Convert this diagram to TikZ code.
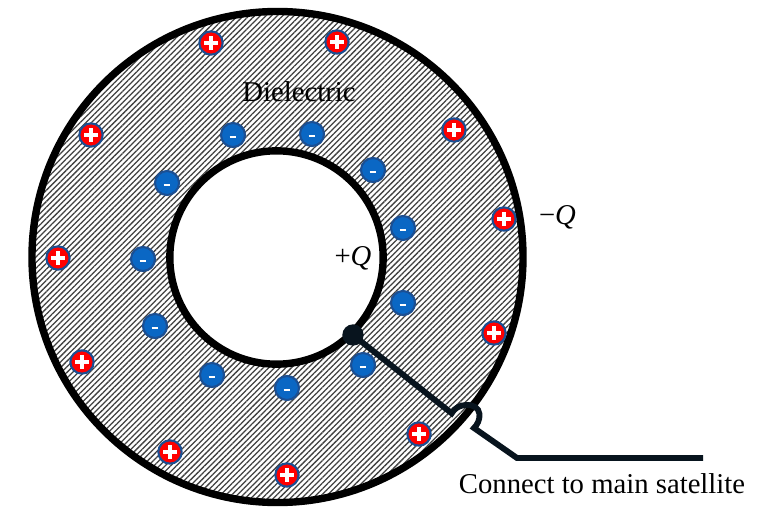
\documentclass[tikz,border=0pt]{standalone}
\usepackage{fontspec}
\setmainfont{Liberation Serif}
\usetikzlibrary{patterns.meta}
\definecolor{chargeRed}{HTML}{FF0000}
\definecolor{chargeBlue}{HTML}{0A67C4}
\definecolor{rimBlue}{HTML}{1B4F93}
\definecolor{wireInk}{HTML}{08141E}

\begin{document}
\begin{tikzpicture}[x=0.03cm, y=-0.03cm, every node/.style={font=\fontsize{24.5}{29}\selectfont},
	pluscharge/.style={circle, draw=rimBlue, fill=chargeRed, line width=1.8pt, minimum size=0.7cm, inner sep=0pt,
		path picture={\draw[white, line width=2.6pt] (path picture bounding box.center) ++(-0.2cm,0pt) -- ++(0.4cm,0pt)
			(path picture bounding box.center) ++(0pt,-0.2cm) -- ++(0pt,0.4cm);}},
	minuscharge/.style={circle, draw=rimBlue, fill=chargeBlue, line width=1.8pt, minimum size=0.72cm, inner sep=0pt,
		path picture={\draw[white, line width=2.4pt] (path picture bounding box.center) ++(-0.1cm,-0.06cm) -- ++(0.2cm,0pt);}},
	wire/.style={draw=wireInk, line width=5pt, line join=miter}]
	\useasboundingbox (0,0) rectangle (761,507);
	% dielectric shell between the two plates
	\fill[even odd rule, pattern={Lines[angle=45, distance=3.4pt, line width=1.1pt]}, pattern color=black!75]
		(277.5,257) circle[radius=7.365cm] (276.5,257.5) circle[radius=3.2cm];
	\draw[line width=6.3pt] (277.5,257) circle[radius=7.365cm];
	\draw[line width=6.3pt] (276.5,257.5) circle[radius=3.2cm];
	% bound charges
	\foreach \x/\y [count=\i] in {211/43, 337/42, 91/135, 454/130, 504/219, 58/258, 494/333, 82/362, 419/434, 170/452, 287/475}
		{\node[pluscharge] (p\i) at (\x,\y) {};}
	\foreach \x/\y [count=\i] in {233/135, 312/134, 373/170, 167/183, 403/228, 143/259, 403/303, 155/326, 363/365, 212/375, 287/388}
		{\node[minuscharge] (m\i) at (\x,\y) {};}
	% lead to the satellite
	\node[circle, fill=wireInk, minimum size=0.64cm, inner sep=0pt] (tap) at (353,335) {};
	\coordinate (lead) at (703,458);
	\draw[wire] (tap.center) -- (451.7,413.3) .. controls (456,403) and (478,401) .. (479.5,414)
		.. controls (480,420) and (477,425) .. (474,428) -- (517,458) -- (lead);
	\node (diel) at (299,92) {Dielectric};
	\node (qin) at (353,258) {+\textit{Q}};
	\node (qout) at (557.5,217) {−\textit{Q}};
	\node[anchor=base] (sat) at (602,493) {Connect to main satellite};
\end{tikzpicture}
\end{document}
